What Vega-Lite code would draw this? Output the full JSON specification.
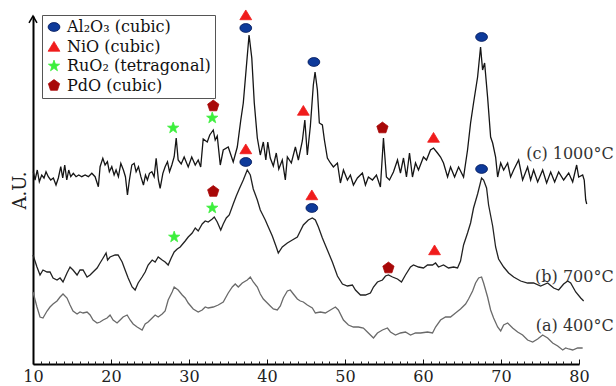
{
  "$schema": "https://vega.github.io/schema/vega-lite/v6.json",
  "width": 546,
  "height": 348,
  "autosize": {"type": "none"},
  "padding": {"left": 33, "top": 16, "right": 37, "bottom": 22},
  "config": {"view": {"stroke": null}, "font": "DejaVu Serif"},
  "datasets": {
    "traces": [
      {"s":"c","x":10.04,"y":192.3},{"s":"c","x":10.26,"y":184},{"s":"c","x":10.55,"y":194},{"s":"c","x":10.81,"y":182.3},{"s":"c","x":11.12,"y":189},{"s":"c","x":11.41,"y":186},{"s":"c","x":11.67,"y":192.3},{"s":"c","x":11.96,"y":187.3},{"s":"c","x":12.27,"y":184},{"s":"c","x":12.61,"y":186},{"s":"c","x":12.95,"y":179},{"s":"c","x":13.25,"y":186},{"s":"c","x":13.56,"y":197.3},{"s":"c","x":13.81,"y":186},{"s":"c","x":14.07,"y":199},{"s":"c","x":14.33,"y":184},{"s":"c","x":14.58,"y":194},{"s":"c","x":14.84,"y":187.3},{"s":"c","x":15.17,"y":190.7},{"s":"c","x":15.52,"y":187.3},{"s":"c","x":15.87,"y":189},{"s":"c","x":16.25,"y":187.3},{"s":"c","x":16.68,"y":189},{"s":"c","x":17.10,"y":187.3},{"s":"c","x":17.54,"y":190.7},{"s":"c","x":17.96,"y":187.3},{"s":"c","x":18.38,"y":177.3},{"s":"c","x":18.60,"y":197.3},{"s":"c","x":18.95,"y":205.7},{"s":"c","x":19.24,"y":199},{"s":"c","x":19.54,"y":202.3},{"s":"c","x":19.79,"y":192.3},{"s":"c","x":20.10,"y":197.3},{"s":"c","x":20.40,"y":189},{"s":"c","x":20.65,"y":194},{"s":"c","x":20.95,"y":187.3},{"s":"c","x":21.26,"y":200.7},{"s":"c","x":21.59,"y":194},{"s":"c","x":21.85,"y":187.3},{"s":"c","x":22.11,"y":169},{"s":"c","x":22.36,"y":184},{"s":"c","x":22.67,"y":199},{"s":"c","x":22.97,"y":200.7},{"s":"c","x":23.22,"y":192.3},{"s":"c","x":23.52,"y":197.3},{"s":"c","x":23.83,"y":187.3},{"s":"c","x":24.16,"y":179},{"s":"c","x":24.42,"y":189},{"s":"c","x":24.67,"y":184},{"s":"c","x":24.93,"y":190.7},{"s":"c","x":25.24,"y":192.3},{"s":"c","x":25.53,"y":187.3},{"s":"c","x":25.79,"y":205.7},{"s":"c","x":26.08,"y":184},{"s":"c","x":26.30,"y":175.7},{"s":"c","x":26.65,"y":190.7},{"s":"c","x":26.94,"y":197.3},{"s":"c","x":27.24,"y":202.3},{"s":"c","x":27.50,"y":192.3},{"s":"c","x":27.80,"y":199},{"s":"c","x":28.10,"y":207.3},{"s":"c","x":28.36,"y":226},{"s":"c","x":28.61,"y":204},{"s":"c","x":29.00,"y":200},{"s":"c","x":29.38,"y":207},{"s":"c","x":29.90,"y":197},{"s":"c","x":30.35,"y":207},{"s":"c","x":30.80,"y":199},{"s":"c","x":31.18,"y":204},{"s":"c","x":31.50,"y":197},{"s":"c","x":31.82,"y":225},{"s":"c","x":32.34,"y":222},{"s":"c","x":32.66,"y":229},{"s":"c","x":33.11,"y":234},{"s":"c","x":33.36,"y":224},{"s":"c","x":33.62,"y":228},{"s":"c","x":34.01,"y":199},{"s":"c","x":34.39,"y":214},{"s":"c","x":35.03,"y":217},{"s":"c","x":35.67,"y":202},{"s":"c","x":36.19,"y":217},{"s":"c","x":36.64,"y":244},{"s":"c","x":36.96,"y":261},{"s":"c","x":37.34,"y":296},{"s":"c","x":37.70,"y":329},{"s":"c","x":38.05,"y":306},{"s":"c","x":38.37,"y":261},{"s":"c","x":38.76,"y":226},{"s":"c","x":39.14,"y":209},{"s":"c","x":39.53,"y":222},{"s":"c","x":39.85,"y":204},{"s":"c","x":40.10,"y":222},{"s":"c","x":40.42,"y":206},{"s":"c","x":40.81,"y":198},{"s":"c","x":41.19,"y":211},{"s":"c","x":41.51,"y":195},{"s":"c","x":41.96,"y":204},{"s":"c","x":42.35,"y":184},{"s":"c","x":42.61,"y":207},{"s":"c","x":43.12,"y":201},{"s":"c","x":43.64,"y":217},{"s":"c","x":44.02,"y":204},{"s":"c","x":44.53,"y":223},{"s":"c","x":44.85,"y":244},{"s":"c","x":45.17,"y":209},{"s":"c","x":45.56,"y":238},{"s":"c","x":45.94,"y":279},{"s":"c","x":46.16,"y":292},{"s":"c","x":46.46,"y":274},{"s":"c","x":46.71,"y":241},{"s":"c","x":47.10,"y":239},{"s":"c","x":47.36,"y":224},{"s":"c","x":47.74,"y":206},{"s":"c","x":48.13,"y":201},{"s":"c","x":48.51,"y":197},{"s":"c","x":49.03,"y":201},{"s":"c","x":49.41,"y":181},{"s":"c","x":49.80,"y":194},{"s":"c","x":50.31,"y":184},{"s":"c","x":50.69,"y":189},{"s":"c","x":51.08,"y":179},{"s":"c","x":51.59,"y":186},{"s":"c","x":52.23,"y":191},{"s":"c","x":52.62,"y":179},{"s":"c","x":53.00,"y":187},{"s":"c","x":53.52,"y":184},{"s":"c","x":54.03,"y":189},{"s":"c","x":54.54,"y":177},{"s":"c","x":54.93,"y":226},{"s":"c","x":55.31,"y":187},{"s":"c","x":55.70,"y":184},{"s":"c","x":56.21,"y":192},{"s":"c","x":56.73,"y":204},{"s":"c","x":57.11,"y":191},{"s":"c","x":57.50,"y":206},{"s":"c","x":57.88,"y":187},{"s":"c","x":58.27,"y":211},{"s":"c","x":58.65,"y":187},{"s":"c","x":59.04,"y":201},{"s":"c","x":59.42,"y":194},{"s":"c","x":60.06,"y":207},{"s":"c","x":60.45,"y":204},{"s":"c","x":60.96,"y":214},{"s":"c","x":61.35,"y":216},{"s":"c","x":61.86,"y":211},{"s":"c","x":62.25,"y":207},{"s":"c","x":62.63,"y":201},{"s":"c","x":63.15,"y":187},{"s":"c","x":63.53,"y":197},{"s":"c","x":64.05,"y":187},{"s":"c","x":64.56,"y":197},{"s":"c","x":65.20,"y":187},{"s":"c","x":65.71,"y":214},{"s":"c","x":66.10,"y":241},{"s":"c","x":66.48,"y":261},{"s":"c","x":67.00,"y":287},{"s":"c","x":67.38,"y":317},{"s":"c","x":67.64,"y":294},{"s":"c","x":67.90,"y":301},{"s":"c","x":68.28,"y":267},{"s":"c","x":68.67,"y":227},{"s":"c","x":68.93,"y":221},{"s":"c","x":69.31,"y":207},{"s":"c","x":69.57,"y":187},{"s":"c","x":69.96,"y":201},{"s":"c","x":70.34,"y":194},{"s":"c","x":70.85,"y":201},{"s":"c","x":71.23,"y":187},{"s":"c","x":71.62,"y":194},{"s":"c","x":72.26,"y":204},{"s":"c","x":72.77,"y":184},{"s":"c","x":73.41,"y":197},{"s":"c","x":73.80,"y":184},{"s":"c","x":74.18,"y":194},{"s":"c","x":74.70,"y":182},{"s":"c","x":75.34,"y":194},{"s":"c","x":75.85,"y":181},{"s":"c","x":76.37,"y":192},{"s":"c","x":76.88,"y":182},{"s":"c","x":77.39,"y":192},{"s":"c","x":78.03,"y":184},{"s":"c","x":78.68,"y":191},{"s":"c","x":79.19,"y":182},{"s":"c","x":79.70,"y":199},{"s":"c","x":79.96,"y":187},{"s":"c","x":80.47,"y":189},{"s":"c","x":80.67,"y":184},{"s":"c","x":80.86,"y":164},{"s":"c","x":80.99,"y":160},
      {"s":"b","x":10.00,"y":109},{"s":"b","x":10.51,"y":97},{"s":"b","x":10.90,"y":89},{"s":"b","x":11.28,"y":94},{"s":"b","x":11.80,"y":92},{"s":"b","x":12.18,"y":92},{"s":"b","x":12.57,"y":86},{"s":"b","x":13.08,"y":84},{"s":"b","x":13.47,"y":86},{"s":"b","x":13.85,"y":82},{"s":"b","x":14.36,"y":91},{"s":"b","x":14.75,"y":97},{"s":"b","x":15.13,"y":94},{"s":"b","x":15.65,"y":89},{"s":"b","x":16.03,"y":94},{"s":"b","x":16.42,"y":94},{"s":"b","x":16.93,"y":87},{"s":"b","x":17.32,"y":89},{"s":"b","x":17.70,"y":92},{"s":"b","x":18.22,"y":96},{"s":"b","x":18.60,"y":101},{"s":"b","x":18.99,"y":106},{"s":"b","x":19.37,"y":111},{"s":"b","x":19.56,"y":104},{"s":"b","x":19.88,"y":107},{"s":"b","x":20.53,"y":109},{"s":"b","x":20.91,"y":109},{"s":"b","x":21.43,"y":102},{"s":"b","x":21.81,"y":94},{"s":"b","x":22.20,"y":86},{"s":"b","x":22.71,"y":77},{"s":"b","x":23.09,"y":74},{"s":"b","x":23.48,"y":81},{"s":"b","x":23.99,"y":87},{"s":"b","x":24.38,"y":92},{"s":"b","x":24.76,"y":99},{"s":"b","x":25.28,"y":104},{"s":"b","x":25.66,"y":102},{"s":"b","x":26.05,"y":107},{"s":"b","x":26.56,"y":104},{"s":"b","x":26.94,"y":102},{"s":"b","x":27.33,"y":99},{"s":"b","x":27.72,"y":106},{"s":"b","x":28.10,"y":112},{"s":"b","x":28.49,"y":115},{"s":"b","x":28.87,"y":117},{"s":"b","x":29.51,"y":123},{"s":"b","x":29.90,"y":127},{"s":"b","x":30.41,"y":131},{"s":"b","x":30.80,"y":136},{"s":"b","x":31.18,"y":133},{"s":"b","x":31.69,"y":140},{"s":"b","x":32.08,"y":143},{"s":"b","x":32.46,"y":142},{"s":"b","x":32.98,"y":145},{"s":"b","x":33.24,"y":147},{"s":"b","x":33.62,"y":142},{"s":"b","x":34.07,"y":134},{"s":"b","x":34.39,"y":140},{"s":"b","x":34.78,"y":146},{"s":"b","x":35.16,"y":149},{"s":"b","x":35.67,"y":160},{"s":"b","x":36.06,"y":168},{"s":"b","x":36.44,"y":175},{"s":"b","x":36.96,"y":184},{"s":"b","x":37.47,"y":194},{"s":"b","x":37.86,"y":189},{"s":"b","x":38.24,"y":175},{"s":"b","x":38.76,"y":164},{"s":"b","x":39.14,"y":154},{"s":"b","x":39.78,"y":144},{"s":"b","x":40.17,"y":137},{"s":"b","x":40.68,"y":128},{"s":"b","x":41.19,"y":117},{"s":"b","x":41.45,"y":111},{"s":"b","x":41.96,"y":117},{"s":"b","x":42.61,"y":121},{"s":"b","x":43.25,"y":124},{"s":"b","x":43.89,"y":127},{"s":"b","x":44.27,"y":133},{"s":"b","x":44.66,"y":139},{"s":"b","x":45.30,"y":144},{"s":"b","x":45.81,"y":146},{"s":"b","x":46.20,"y":144},{"s":"b","x":46.59,"y":137},{"s":"b","x":47.10,"y":126},{"s":"b","x":47.74,"y":114},{"s":"b","x":48.38,"y":102},{"s":"b","x":49.03,"y":88},{"s":"b","x":49.67,"y":80},{"s":"b","x":50.31,"y":78},{"s":"b","x":50.95,"y":79},{"s":"b","x":51.34,"y":74},{"s":"b","x":51.98,"y":69},{"s":"b","x":52.62,"y":69},{"s":"b","x":53.26,"y":71},{"s":"b","x":53.65,"y":77},{"s":"b","x":54.16,"y":82},{"s":"b","x":54.80,"y":84},{"s":"b","x":55.19,"y":88},{"s":"b","x":55.57,"y":89},{"s":"b","x":56.09,"y":87},{"s":"b","x":56.73,"y":85},{"s":"b","x":57.24,"y":82},{"s":"b","x":57.75,"y":89},{"s":"b","x":58.40,"y":97},{"s":"b","x":58.78,"y":99},{"s":"b","x":59.42,"y":97},{"s":"b","x":60.06,"y":96},{"s":"b","x":60.58,"y":99},{"s":"b","x":61.22,"y":99},{"s":"b","x":61.61,"y":101},{"s":"b","x":61.99,"y":97},{"s":"b","x":62.63,"y":99},{"s":"b","x":63.27,"y":96},{"s":"b","x":63.92,"y":97},{"s":"b","x":64.43,"y":96},{"s":"b","x":64.81,"y":103},{"s":"b","x":65.20,"y":119},{"s":"b","x":65.71,"y":131},{"s":"b","x":66.10,"y":141},{"s":"b","x":66.48,"y":156},{"s":"b","x":67.00,"y":170},{"s":"b","x":67.51,"y":186},{"s":"b","x":67.77,"y":184},{"s":"b","x":68.15,"y":176},{"s":"b","x":68.41,"y":159},{"s":"b","x":68.93,"y":138},{"s":"b","x":69.31,"y":117},{"s":"b","x":69.69,"y":105},{"s":"b","x":70.34,"y":97},{"s":"b","x":70.98,"y":91},{"s":"b","x":71.62,"y":87},{"s":"b","x":72.52,"y":83},{"s":"b","x":73.41,"y":81},{"s":"b","x":74.18,"y":81},{"s":"b","x":75.08,"y":78},{"s":"b","x":75.98,"y":81},{"s":"b","x":76.75,"y":76},{"s":"b","x":77.39,"y":74},{"s":"b","x":78.03,"y":80},{"s":"b","x":78.55,"y":83},{"s":"b","x":78.93,"y":81},{"s":"b","x":79.58,"y":72},{"s":"b","x":80.22,"y":66},{"s":"b","x":80.60,"y":63},
      {"s":"a","x":10.00,"y":72},{"s":"a","x":10.51,"y":57},{"s":"a","x":10.90,"y":47},{"s":"a","x":11.28,"y":46},{"s":"a","x":11.80,"y":53},{"s":"a","x":12.18,"y":57},{"s":"a","x":12.57,"y":60},{"s":"a","x":13.08,"y":63},{"s":"a","x":13.47,"y":67},{"s":"a","x":13.85,"y":70},{"s":"a","x":14.36,"y":66},{"s":"a","x":14.75,"y":59},{"s":"a","x":15.13,"y":53},{"s":"a","x":15.65,"y":50},{"s":"a","x":16.03,"y":52},{"s":"a","x":16.42,"y":51},{"s":"a","x":16.93,"y":52},{"s":"a","x":17.32,"y":49},{"s":"a","x":17.70,"y":44},{"s":"a","x":18.22,"y":41},{"s":"a","x":18.60,"y":42},{"s":"a","x":18.99,"y":44},{"s":"a","x":19.50,"y":46},{"s":"a","x":19.88,"y":49},{"s":"a","x":20.27,"y":44},{"s":"a","x":20.78,"y":41},{"s":"a","x":21.17,"y":44},{"s":"a","x":21.55,"y":47},{"s":"a","x":22.07,"y":49},{"s":"a","x":22.45,"y":44},{"s":"a","x":22.84,"y":40},{"s":"a","x":23.35,"y":37},{"s":"a","x":23.99,"y":34},{"s":"a","x":24.38,"y":40},{"s":"a","x":24.76,"y":42},{"s":"a","x":25.28,"y":46},{"s":"a","x":25.66,"y":49},{"s":"a","x":26.05,"y":47},{"s":"a","x":26.56,"y":50},{"s":"a","x":26.94,"y":53},{"s":"a","x":27.33,"y":64},{"s":"a","x":27.84,"y":72},{"s":"a","x":28.10,"y":77},{"s":"a","x":28.61,"y":74},{"s":"a","x":29.13,"y":69},{"s":"a","x":29.51,"y":66},{"s":"a","x":29.90,"y":61},{"s":"a","x":30.54,"y":55},{"s":"a","x":31.18,"y":52},{"s":"a","x":31.69,"y":54},{"s":"a","x":32.08,"y":57},{"s":"a","x":32.46,"y":56},{"s":"a","x":33.11,"y":57},{"s":"a","x":33.75,"y":59},{"s":"a","x":34.39,"y":62},{"s":"a","x":35.03,"y":71},{"s":"a","x":35.55,"y":77},{"s":"a","x":35.93,"y":80},{"s":"a","x":36.32,"y":77},{"s":"a","x":36.83,"y":81},{"s":"a","x":37.47,"y":84},{"s":"a","x":37.86,"y":87},{"s":"a","x":38.24,"y":82},{"s":"a","x":38.76,"y":77},{"s":"a","x":39.14,"y":70},{"s":"a","x":39.53,"y":65},{"s":"a","x":40.04,"y":61},{"s":"a","x":40.42,"y":58},{"s":"a","x":40.81,"y":55},{"s":"a","x":41.32,"y":54},{"s":"a","x":41.71,"y":58},{"s":"a","x":42.09,"y":66},{"s":"a","x":42.61,"y":73},{"s":"a","x":42.99,"y":74},{"s":"a","x":43.38,"y":70},{"s":"a","x":43.89,"y":65},{"s":"a","x":44.27,"y":63},{"s":"a","x":44.66,"y":62},{"s":"a","x":45.17,"y":59},{"s":"a","x":45.81,"y":56},{"s":"a","x":46.20,"y":51},{"s":"a","x":46.84,"y":52},{"s":"a","x":47.48,"y":51},{"s":"a","x":48.13,"y":54},{"s":"a","x":48.77,"y":57},{"s":"a","x":49.15,"y":54},{"s":"a","x":49.80,"y":44},{"s":"a","x":50.44,"y":39},{"s":"a","x":51.08,"y":37},{"s":"a","x":51.72,"y":37},{"s":"a","x":52.36,"y":36},{"s":"a","x":53.00,"y":31},{"s":"a","x":53.65,"y":26},{"s":"a","x":54.16,"y":31},{"s":"a","x":54.80,"y":34},{"s":"a","x":55.44,"y":36},{"s":"a","x":55.83,"y":32},{"s":"a","x":56.47,"y":29},{"s":"a","x":57.11,"y":31},{"s":"a","x":57.75,"y":32},{"s":"a","x":58.40,"y":29},{"s":"a","x":59.04,"y":31},{"s":"a","x":59.68,"y":31},{"s":"a","x":60.58,"y":32},{"s":"a","x":61.22,"y":31},{"s":"a","x":61.61,"y":37},{"s":"a","x":62.25,"y":44},{"s":"a","x":62.89,"y":47},{"s":"a","x":63.53,"y":47},{"s":"a","x":64.17,"y":51},{"s":"a","x":64.81,"y":55},{"s":"a","x":65.46,"y":60},{"s":"a","x":65.84,"y":65},{"s":"a","x":66.36,"y":73},{"s":"a","x":66.74,"y":81},{"s":"a","x":67.13,"y":86},{"s":"a","x":67.51,"y":87},{"s":"a","x":67.77,"y":81},{"s":"a","x":68.28,"y":67},{"s":"a","x":68.67,"y":54},{"s":"a","x":69.05,"y":46},{"s":"a","x":69.57,"y":37},{"s":"a","x":69.96,"y":33},{"s":"a","x":70.34,"y":39},{"s":"a","x":70.85,"y":41},{"s":"a","x":71.49,"y":36},{"s":"a","x":72.13,"y":32},{"s":"a","x":72.77,"y":29},{"s":"a","x":73.41,"y":24},{"s":"a","x":74.06,"y":22},{"s":"a","x":74.70,"y":25},{"s":"a","x":75.34,"y":29},{"s":"a","x":75.98,"y":26},{"s":"a","x":76.62,"y":21},{"s":"a","x":77.27,"y":18},{"s":"a","x":77.91,"y":14},{"s":"a","x":78.29,"y":16},{"s":"a","x":78.68,"y":15},{"s":"a","x":79.19,"y":14},{"s":"a","x":79.83,"y":16},{"s":"a","x":80.47,"y":16}
    ],
    "markers": [
      {"phase":"NiO (cubic)","x":37.28,"y":349},
      {"phase":"Al₂O₃ (cubic)","x":37.28,"y":336},
      {"phase":"Al₂O₃ (cubic)","x":46.01,"y":302},
      {"phase":"NiO (cubic)","x":44.66,"y":253.5},
      {"phase":"PdO (cubic)","x":54.80,"y":236},
      {"phase":"NiO (cubic)","x":61.35,"y":226.5},
      {"phase":"Al₂O₃ (cubic)","x":67.51,"y":327},
      {"phase":"RuO₂ (tetragonal)","x":27.97,"y":236},
      {"phase":"RuO₂ (tetragonal)","x":32.98,"y":246},
      {"phase":"PdO (cubic)","x":33.11,"y":258},
      {"phase":"NiO (cubic)","x":37.28,"y":215},
      {"phase":"Al₂O₃ (cubic)","x":37.28,"y":202},
      {"phase":"PdO (cubic)","x":33.11,"y":172.5},
      {"phase":"RuO₂ (tetragonal)","x":32.98,"y":156},
      {"phase":"RuO₂ (tetragonal)","x":28.10,"y":127},
      {"phase":"NiO (cubic)","x":45.75,"y":169},
      {"phase":"Al₂O₃ (cubic)","x":45.75,"y":156},
      {"phase":"PdO (cubic)","x":55.57,"y":96},
      {"phase":"NiO (cubic)","x":61.48,"y":114},
      {"phase":"Al₂O₃ (cubic)","x":67.51,"y":195}
    ],
    "labels": [
      {"label":"(c) 1000°C","x":84.45,"y":210},
      {"label":"(b) 700°C","x":84.45,"y":87},
      {"label":"(a) 400°C","x":84.45,"y":38}
    ],
    "arrow": [{"x":10,"y":348}]
  },
  "layer": [
    {
      "data": {"name": "traces"},
      "transform": [{"filter": "datum.s === 'a'"}],
      "mark": {"type": "line", "strokeWidth": 1.3, "color": "#6a6a6a"},
      "encoding": {
        "x": {"field": "x", "type": "quantitative", "scale": {"domain": [10, 80], "nice": false, "zero": false},
          "axis": {"title": null, "grid": false, "orient": "bottom", "values": [10, 20, 30, 40, 50, 60, 70, 80],
            "labelOverlap": false, "labelFlush": false, "labelBound": false,
            "tickSize": -5, "tickColor": "#111", "tickWidth": 1, "domainColor": "#000", "domainWidth": 2,
            "labelFont": "DejaVu Serif", "labelFontSize": 16, "labelColor": "#222", "labelPadding": 9}},
        "y": {"field": "y", "type": "quantitative", "scale": {"domain": [0, 348], "nice": false},
          "axis": {"title": "A.U.", "grid": false, "labels": false, "ticks": false, "domainColor": "#000", "domainWidth": 2,
            "titleFont": "DejaVu Serif", "titleFontSize": 18, "titleFontWeight": "normal", "titleColor": "#222", "titlePadding": 4}}
      }
    },
    {
      "data": {"name": "traces"},
      "transform": [{"filter": "datum.s === 'b'"}],
      "mark": {"type": "line", "strokeWidth": 1.3, "color": "#222222"},
      "encoding": {
        "x": {"field": "x", "type": "quantitative", "axis": null},
        "y": {"field": "y", "type": "quantitative"}
      }
    },
    {
      "data": {"name": "traces"},
      "transform": [{"filter": "datum.s === 'c'"}],
      "mark": {"type": "line", "strokeWidth": 1.3, "color": "#151515"},
      "encoding": {
        "x": {"field": "x", "type": "quantitative", "axis": null},
        "y": {"field": "y", "type": "quantitative"}
      }
    },
    {
      "data": {"name": "markers"},
      "mark": {"type": "point", "filled": true, "size": 140, "opacity": 1, "strokeWidth": 0.8},
      "encoding": {
        "x": {"field": "x", "type": "quantitative", "axis": null},
        "y": {"field": "y", "type": "quantitative"},
        "shape": {"field": "phase", "type": "nominal",
          "scale": {"domain": ["Al₂O₃ (cubic)", "NiO (cubic)", "RuO₂ (tetragonal)", "PdO (cubic)"],
            "range": ["M-1,0A1,0.75,0,1,0,1,0A1,0.75,0,1,0,-1,0Z", "M0,-0.85L1,0.8L-1,0.8Z", "M0,-1L0.235,-0.324L0.951,-0.309L0.38,0.124L0.588,0.809L0,0.4L-0.588,0.809L-0.38,0.124L-0.951,-0.309L-0.235,-0.324Z", "M0,-1L0.951,-0.309L0.588,0.809L-0.588,0.809L-0.951,-0.309Z"]},
          "legend": {"title": null, "orient": "none", "legendX": 9, "legendY": -1, "padding": 4, "strokeColor": "#555", "fillColor": "white",
            "labelFont": "DejaVu Serif", "labelFontSize": 16, "labelColor": "#111", "symbolSize": 140, "symbolOpacity": 1, "rowPadding": 3.5, "labelOffset": 5, "symbolStrokeWidth": 0.8, "labelLimit": 300}},
        "color": {"field": "phase", "type": "nominal",
          "scale": {"domain": ["Al₂O₃ (cubic)", "NiO (cubic)", "RuO₂ (tetragonal)", "PdO (cubic)"], "range": ["#0e3a9a", "#f01c1c", "#3cef3c", "#a80808"]},
          "legend": {"title": null, "orient": "none", "legendX": 9, "legendY": -1, "padding": 4, "strokeColor": "#555", "fillColor": "white",
            "labelFont": "DejaVu Serif", "labelFontSize": 16, "labelColor": "#111", "symbolSize": 140, "symbolOpacity": 1, "rowPadding": 3.5, "labelOffset": 5, "symbolStrokeWidth": 0.8, "labelLimit": 300}},
        "stroke": {"field": "phase", "type": "nominal",
          "scale": {"domain": ["Al₂O₃ (cubic)", "NiO (cubic)", "RuO₂ (tetragonal)", "PdO (cubic)"], "range": ["#061c5a", "#f01c1c", "#3cef3c", "#a80808"]},
          "legend": {"title": null, "orient": "none", "legendX": 9, "legendY": -1, "padding": 4, "strokeColor": "#555", "fillColor": "white",
            "labelFont": "DejaVu Serif", "labelFontSize": 16, "labelColor": "#111", "symbolSize": 140, "symbolOpacity": 1, "rowPadding": 3.5, "labelOffset": 5, "symbolStrokeWidth": 0.8, "labelLimit": 300}}
      }
    },
    {
      "data": {"name": "labels"},
      "mark": {"type": "text", "align": "right", "baseline": "middle", "font": "DejaVu Serif", "fontSize": 16, "color": "#333"},
      "encoding": {
        "x": {"field": "x", "type": "quantitative", "axis": null},
        "y": {"field": "y", "type": "quantitative"},
        "text": {"field": "label"}
      }
    },
    {
      "data": {"name": "arrow"},
      "mark": {"type": "point", "shape": "M-1,1.7L0,0L1,1.7", "filled": false, "size": 64, "stroke": "#000", "strokeWidth": 1.5, "opacity": 1},
      "encoding": {
        "x": {"field": "x", "type": "quantitative",
          "axis": {"title": null, "grid": false, "orient": "bottom", "domain": false, "labels": false,
            "values": [11,12,13,14,15,16,17,18,19,21,22,23,24,25,26,27,28,29,31,32,33,34,35,36,37,38,39,41,42,43,44,45,46,47,48,49,51,52,53,54,55,56,57,58,59,61,62,63,64,65,66,67,68,69,71,72,73,74,75,76,77,78,79],
            "tickSize": -3, "tickColor": "#222", "tickWidth": 1}},
        "y": {"field": "y", "type": "quantitative"}
      }
    }
  ],
  "resolve": {"axis": {"x": "independent"}}
}
